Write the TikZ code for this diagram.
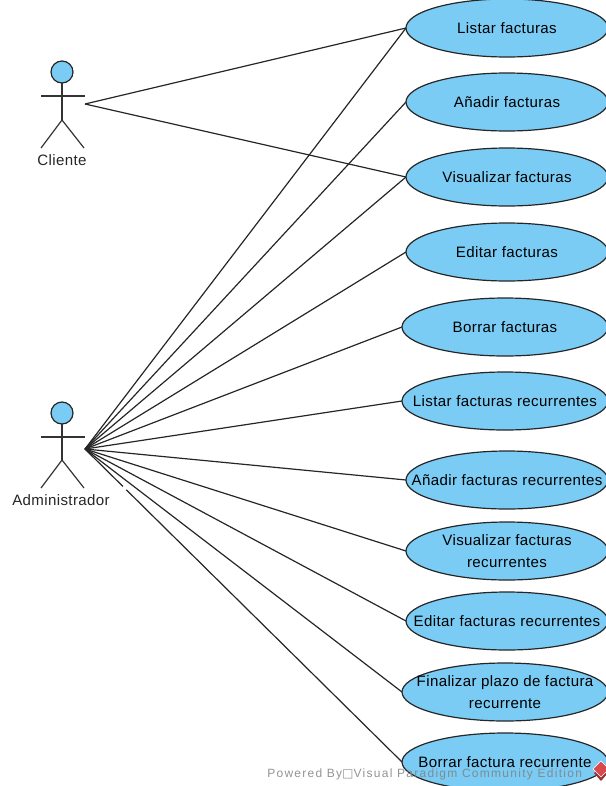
\documentclass[tikz,border=0pt]{standalone}
\usepackage{fontspec}
\setmainfont{Liberation Sans}
\newfontfamily\symfont{DejaVu Sans}
\usetikzlibrary{shapes.geometric}
\definecolor{ucblue}{HTML}{7ACCF5}
\definecolor{logored}{HTML}{D9484A}
\newcommand{\uctext}[1]{\makebox[0pt]{\smash{\raisebox{-.34em}{\begin{tabular}{@{}c@{}}#1\end{tabular}}}}}
\begin{document}
\begin{tikzpicture}[
  x=0.75pt, y=0.75pt,
  usecase/.style={ellipse, draw=black!85, fill=ucblue, line width=0.9pt, inner sep=0pt, outer sep=0pt,
    minimum width=151.5pt, minimum height=43.5pt, font=\fontsize{11.3}{16.5}\selectfont\addfontfeature{LetterSpace=2.5}},
  usecase wide/.style={usecase, minimum width=154.5pt},
  head/.style={circle, draw=black!85, fill=ucblue, line width=0.9pt, inner sep=0pt, outer sep=0pt, minimum size=16.5pt},
  limb/.style={draw=black!80, line width=0.9pt},
  link/.style={draw=black!85, line width=0.9pt},
  actorname/.style={font=\fontsize{11.3}{13}\selectfont\addfontfeature{LetterSpace=2.5}, text=black!85, inner sep=0pt},
]
  \clip (0,0) rectangle (606,-786);
  % use cases
  \node[usecase]      (listar)    at (507,-28)  {\uctext{Listar facturas}};
  \node[usecase]      (anadir)    at (507,-102) {\uctext{Añadir facturas}};
  \node[usecase]      (visual)    at (507,-177) {\uctext{Visualizar facturas}};
  \node[usecase]      (editar)    at (507,-252) {\uctext{Editar facturas}};
  \node[usecase wide] (borrar)    at (505,-327) {\uctext{Borrar facturas}};
  \node[usecase wide] (listarrec) at (505,-401) {\uctext{Listar facturas recurrentes}};
  \node[usecase]      (anadirrec) at (507,-480) {\uctext{Añadir facturas recurrentes}};
  \node[usecase]      (visualrec) at (507,-551) {\uctext{Visualizar facturas\\recurrentes}};
  \node[usecase]      (editarrec) at (507,-621) {\uctext{Editar facturas recurrentes}};
  \node[usecase wide] (final)     at (505,-692) {\uctext{Finalizar plazo de factura\\recurrente}};
  \node[usecase wide] (borrarrec) at (505,-762) {\uctext{Borrar factura recurrente}};

  % actors
  \node[head] (cliente) at (62,-72) {};
  \coordinate (cliwaist) at (62,-120);
  \coordinate (cliarml) at (41,-96);
  \coordinate (cliarmr) at (85,-96);
  \coordinate (clifootl) at (41,-148);
  \coordinate (clifootr) at (84,-148);
  \draw[limb] (cliente) -- (cliwaist);
  \draw[limb] (cliarml) -- (cliarmr);
  \draw[limb] (clifootl) -- (cliwaist) -- (clifootr);
  \node[actorname] (clientename) at (62,-160) {Cliente};

  \node[head] (admin) at (62,-413) {};
  \coordinate (admwaist) at (62,-460);
  \coordinate (admarml) at (41,-437);
  \coordinate (admarmr) at (85,-437);
  \coordinate (admfootl) at (41,-488);
  \coordinate (admfootr) at (84,-488);
  \draw[limb] (admin) -- (admwaist);
  \draw[limb] (admarml) -- (admarmr);
  \draw[limb] (admfootl) -- (admwaist) -- (admfootr);
  \node[actorname] (adminname) at (61,-500) {Administrador};

  % connectors
  \coordinate (clifrom) at (85,-104);
  \coordinate (admfrom) at (85,-449);
  \foreach \target in {listar,visual}
    \draw[link] (clifrom) -- (\target.west);
  \foreach \target in {listar,anadir,visual,editar,borrar,listarrec,anadirrec,visualrec,editarrec,final}
    \draw[link] (admfrom) -- (\target.west);
  \draw[link, dash pattern=on 40pt off 3.5pt on 500pt] (admfrom) -- (borrarrec.west);

  % watermark
  \node[anchor=west, inner sep=0pt, text=black!50, opacity=0.85, font=\fontsize{9}{11}\selectfont\addfontfeature{LetterSpace=10.7}] (powered) at (267,-774)
    {Powered By{\symfont\char"25A1}Visual Paradigm Community Edition};
  \fill[logored!70!black] (594,-773) -- (601,-766) -- (608,-773) -- (601,-781) -- cycle;
  \fill[logored, draw=white, line width=0.4pt] (593,-769) -- (601,-761) -- (609,-769) -- (601,-777) -- cycle;
\end{tikzpicture}
\end{document}
